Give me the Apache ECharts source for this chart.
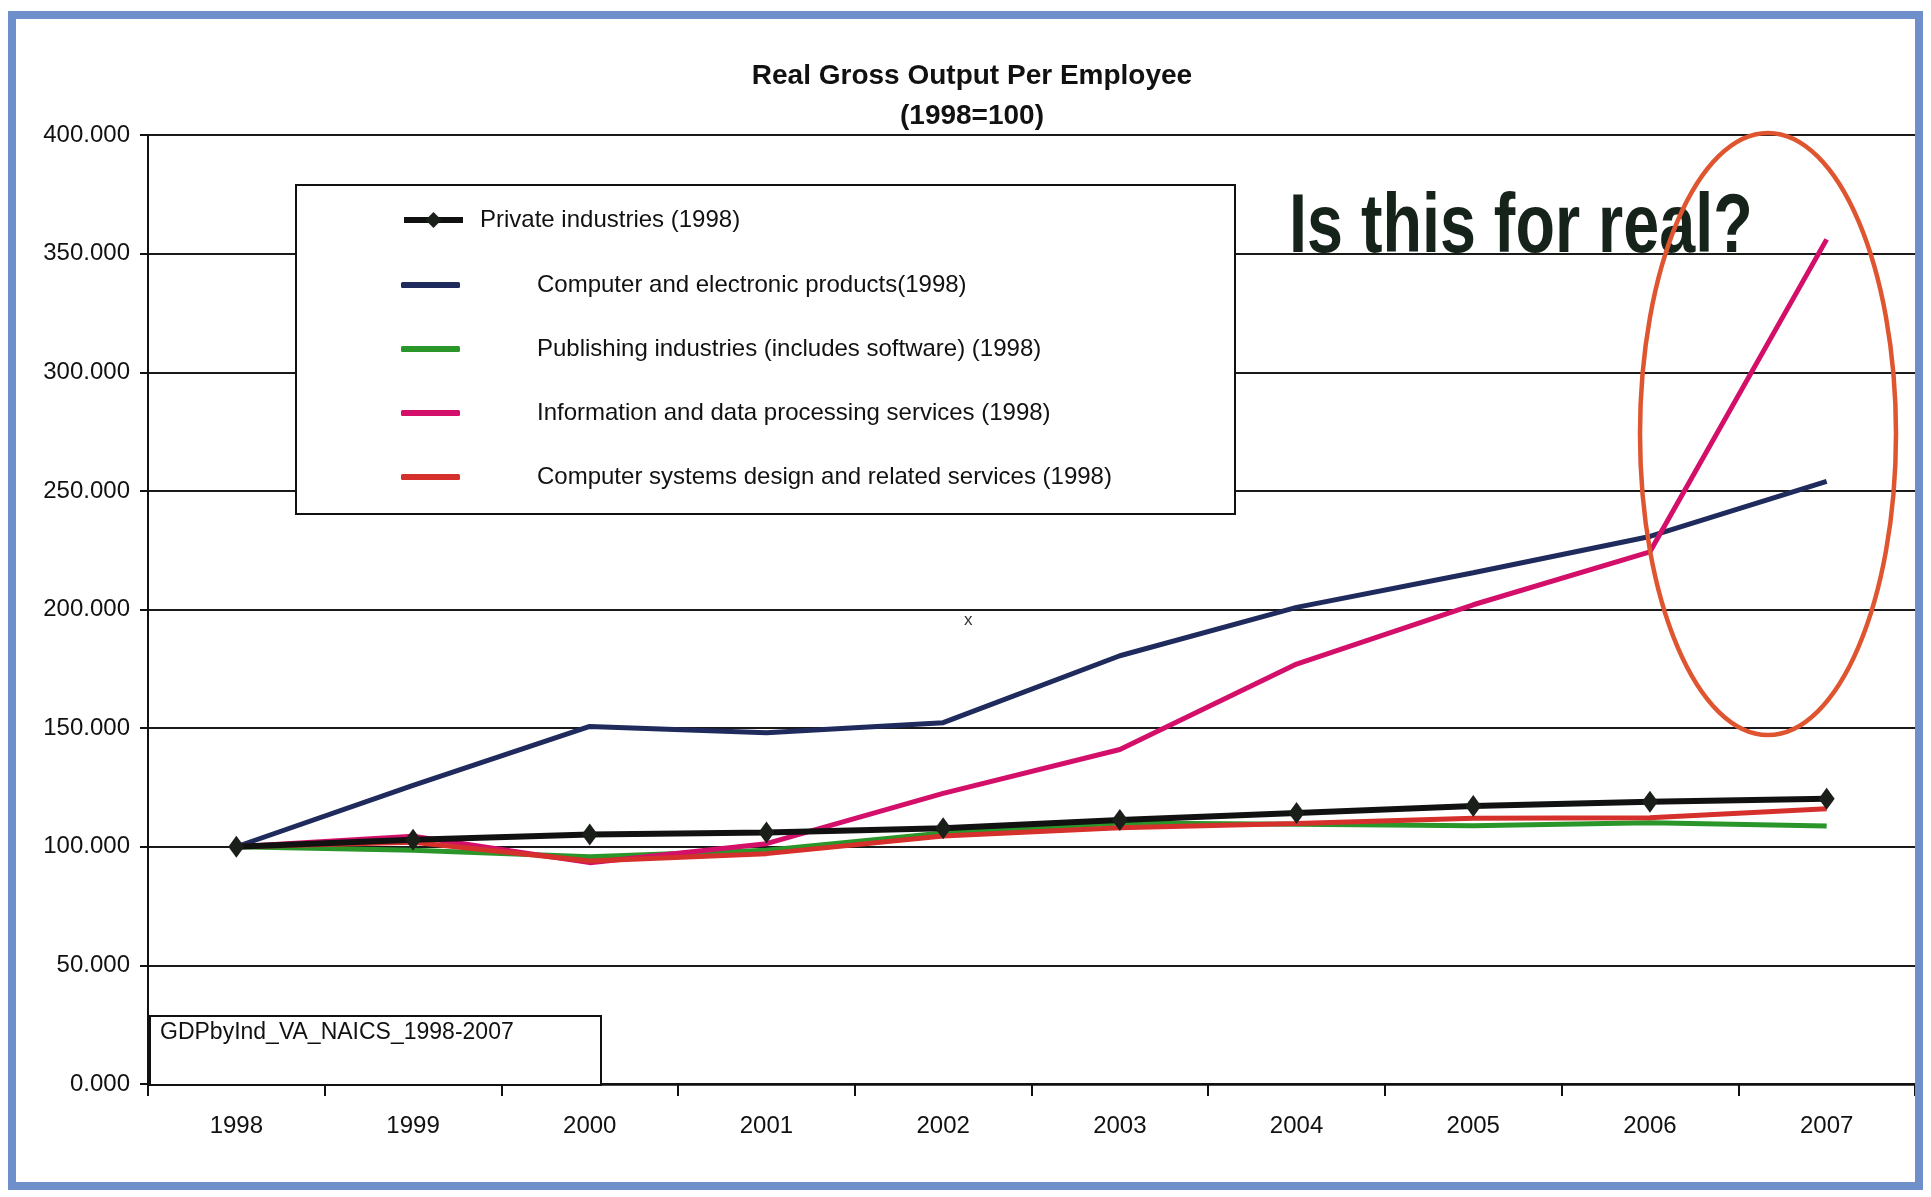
<!DOCTYPE html>
<html>
<head>
<meta charset="utf-8">
<script src="https://cdn.jsdelivr.net/npm/echarts@6/dist/echarts.min.js"></script>
<style>
  html, body { margin: 0; padding: 0; background: #fff; }
  #chart { width: 1931px; height: 1197px; }
</style>
</head>
<body>
<div id="chart"></div>
<script>
// ---- data ----
const years = ["1998", "1999", "2000", "2001", "2002", "2003", "2004", "2005", "2006", "2007"];
const yTicks = [0, 50, 100, 150, 200, 250, 300, 350, 400];

const privateInd   = [100, 102.9, 105.2, 106.0, 107.8, 111.3, 114.2, 117.2, 119.0, 120.2];
const computerElec = [100, 125.9, 150.7, 148.1, 152.3, 180.5, 200.9, 215.5, 230.8, 254.0];
const publishing   = [100, 98.5, 95.8, 98.5, 105.8, 110.0, 109.5, 108.9, 110.1, 108.7];
const infoData     = [100, 104.4, 93.3, 101.3, 122.5, 141.0, 177.0, 202.0, 224.3, 356.0];
const compSystems  = [100, 101.9, 94.0, 97.1, 104.5, 108.0, 109.8, 112.0, 112.2, 116.0];

const names = [
  "Private industries (1998)",
  "Computer and electronic products(1998)",
  "Publishing industries (includes software) (1998)",
  "Information and data processing services (1998)",
  "Computer systems design and related services (1998)"
];

const font = "Liberation Sans";
const chart = echarts.init(document.getElementById("chart"));

function lineSeries(name, data, color, width) {
  return {
    name: name,
    type: "line",
    data: data,
    symbol: "none",
    lineStyle: { color: color, width: width },
    itemStyle: { color: color },
    animation: false
  };
}

const option = {
  backgroundColor: "#ffffff",
  animation: false,
  title: [
    {
      text: "Real Gross Output Per Employee",
      left: 967, top: 57, textAlign: "center",
      textStyle: { fontFamily: font, fontSize: 28, fontWeight: "bold", color: "#111" }
    },
    {
      text: "(1998=100)",
      left: 967, top: 97, textAlign: "center",
      textStyle: { fontFamily: font, fontSize: 28, fontWeight: "bold", color: "#111" }
    }
  ],
  legend: [
    {
      data: [names[0]],
      left: 396, top: 203,
      orient: "vertical",
      itemWidth: 59, itemHeight: 20,
      lineStyle: { width: 6 },
      textStyle: { fontFamily: font, fontSize: 24, color: "#111", padding: [0, 0, 0, 12] },
      selectedMode: false
    },
    {
      data: names.slice(1).map(n => ({ name: n, icon: "roundRect" })),
      left: 396, top: 268,
      orient: "vertical",
      itemWidth: 59, itemHeight: 6,
      itemGap: 40,
      textStyle: { fontFamily: font, fontSize: 24, color: "#111", padding: [0, 0, 0, 72] },
      selectedMode: false
    }
  ],
  grid: { left: 148, right: 16, top: 135, bottom: 113, containLabel: false },
  xAxis: {
    type: "category",
    data: years,
    boundaryGap: true,
    axisLine: { lineStyle: { color: "#111", width: 2.5 } },
    axisTick: { show: true, length: 12, lineStyle: { color: "#111", width: 2 } },
    axisLabel: { fontFamily: font, fontSize: 24, color: "#111", margin: 30 }
  },
  yAxis: {
    type: "value",
    min: yTicks[0], max: yTicks[yTicks.length - 1], interval: 50,
    axisLine: { show: true, lineStyle: { color: "#111", width: 2 } },
    axisTick: { show: true, length: 8, lineStyle: { color: "#111", width: 2 } },
    axisLabel: {
      fontFamily: font, fontSize: 24, color: "#111", margin: 18,
      formatter: v => v.toFixed(3)
    },
    splitLine: { lineStyle: { color: "#1a1a1a", width: 2 } }
  },
  series: [
    {
      name: names[0],
      type: "line",
      data: privateInd,
      symbol: "diamond",
      symbolSize: [16, 22],
      lineStyle: { color: "#111", width: 6 },
      itemStyle: { color: "#1a1f1a" },
      z: 6
    },
    lineSeries(names[1], computerElec, "#1f2b5c", 5),
    lineSeries(names[2], publishing, "#2a962a", 5),
    lineSeries(names[3], infoData, "#d40f6a", 5),
    lineSeries(names[4], compSystems, "#d5302c", 5)
  ],
  graphic: [
    // blue frame round the whole picture
    {
      type: "rect", z: 100,
      shape: { x: 12, y: 15, width: 1907, height: 1171 },
      style: { fill: "none", stroke: "#6e8fca", lineWidth: 8 }
    },
    // legend box
    {
      type: "rect", z: 3,
      shape: { x: 296, y: 185, width: 939, height: 329 },
      style: { fill: "#fff", stroke: "#111", lineWidth: 2 }
    },
    // source box
    {
      type: "rect", z: 3,
      shape: { x: 150, y: 1016, width: 451, height: 69 },
      style: { fill: "#fff", stroke: "#111", lineWidth: 2 }
    },
    {
      type: "text", z: 4, left: 160, top: 1021,
      style: { text: "GDPbyInd_VA_NAICS_1998-2007", fill: "#111", font: "23px " + font }
    },
    // annotation
    {
      type: "text", z: 10,
      x: 1289, y: 229, scaleX: 0.77,
      style: {
        text: "Is this for real?", fill: "#16231a",
        font: "bold 84px " + font, textVerticalAlign: "middle"
      }
    },
    {
      type: "ellipse", z: 10,
      shape: { cx: 1768, cy: 434, rx: 128, ry: 301 },
      style: { fill: "none", stroke: "#df5530", lineWidth: 4.5 }
    },
    {
      type: "text", z: 10, x: 964, y: 612,
      style: { text: "x", fill: "#333", font: "17px " + font }
    }
  ]
};

chart.setOption(option);
window.addEventListener("resize", () => chart.resize());
</script>
</body>
</html>
